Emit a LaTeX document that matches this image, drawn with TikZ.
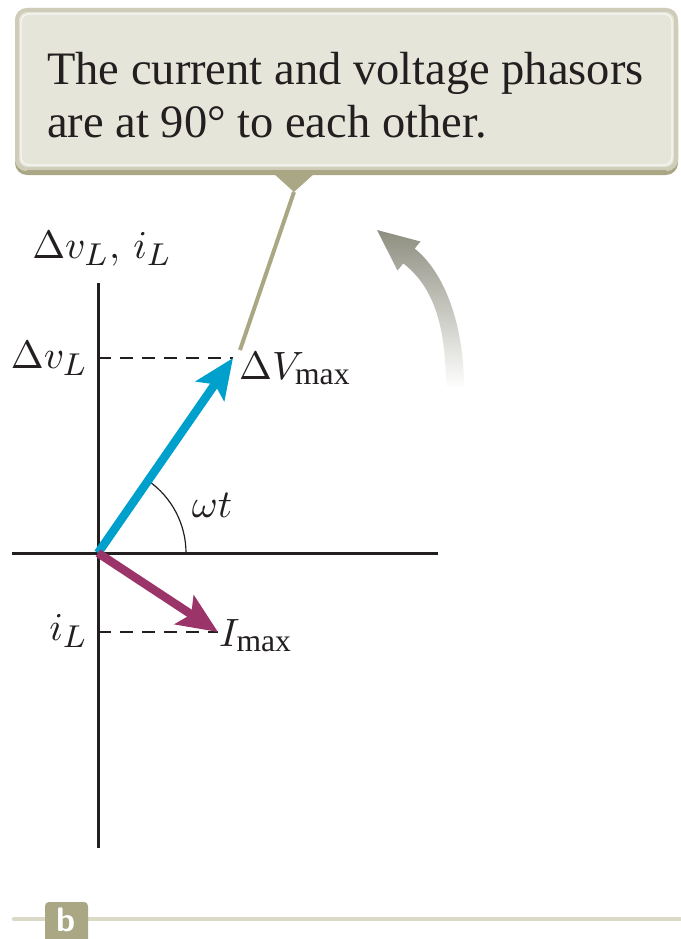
\documentclass[tikz,border=0pt]{standalone}
\usepackage{fontspec}
\setmainfont{Liberation Serif}
\usetikzlibrary{arrows.meta}
\DeclareMathSizes{10}{10}{8}{6}
\definecolor{boxfill}{HTML}{E6E5D9}
\definecolor{boxedge}{HTML}{CFCDB9}
\definecolor{olive}{HTML}{A9A784}
\definecolor{phblue}{HTML}{00A0CC}
\definecolor{phmag}{HTML}{9B3468}
\definecolor{rotgray}{HTML}{8E8E80}
\definecolor{rule}{HTML}{DADAC6}
\definecolor{ink}{HTML}{231F20}
\newcommand{\lblmath}[1]{\scalebox{3.95}{$#1$}}
\tikzset{
  axis/.style={line width=3pt, ink},
  guide/.style={line width=2.2pt, ink, dash pattern=on 13pt off 9pt},
  phasor/.style={line width=8.5pt, -{Stealth[length=40pt, width=34pt, inset=8pt]}},
  lbl/.style={inner sep=0pt, text=ink},
  boxtext/.style={inner sep=0pt, anchor=base west, font=\fontsize{46.5}{54}\selectfont, text=ink},
}
\begin{document}
\begin{tikzpicture}[x=1pt,y=-1pt]
\useasboundingbox (0,0) rectangle (680,939);
% callout box
\fill[olive, rounded corners=12pt] (15,14) rectangle (678,175);
\fill[boxfill, rounded corners=12pt] (15,8) rectangle (678,171);
\draw[boxedge, line width=4pt, rounded corners=10pt] (17,10) rectangle (676,169);
\draw[white, opacity=0.7, line width=1.2pt, rounded corners=8pt] (21,14) rectangle (672,165);
\fill[olive] (27,170) rectangle (666,175);
\node[boxtext] (l1) at (47,85) {The current and voltage phasors};
\node[boxtext] (l2) at (47,138) {are at 90° to each other.};
% pointer
\coordinate (pa) at (273,173);
\coordinate (pb) at (315,173);
\coordinate (pt) at (294,192);
\coordinate (pe) at (240,350);
\fill[olive] (pa) -- (pb) -- (pt) -- cycle;
\draw[olive, line width=4pt] (pt) -- (pe);
% axes
\coordinate (O) at (98,553);
\coordinate (ytop) at (98,283);
\coordinate (ybot) at (98,848);
\coordinate (xl) at (12,553);
\coordinate (xr) at (438,553);
\draw[axis] (ytop) -- (ybot);
\draw[axis] (xl) -- (xr);
% phasor tips
\coordinate (V) at (233,358);
\coordinate (I) at (218,632);
\coordinate (Vy) at (98,358);
\coordinate (Iy) at (98,632);
\draw[guide] (Vy) -- (V);
\draw[guide] (Iy) -- (I);
% angle arc
\draw[ink, line width=1.2pt] (186,553) arc[start angle=0, end angle=-55.3, radius=88];
\draw[phasor, phblue] (O) -- (V);
\draw[phasor, phmag] (O) -- (I);
% labels
\node[lbl, anchor=base] (axl) at (102,258) {\lblmath{\Delta v_L,\, i_L}};
\node[lbl, anchor=base east] (dvl) at (88,368) {\lblmath{\Delta v_L}};
\node[lbl, anchor=base west] (vmax) at (239,379) {\lblmath{\Delta V_{\mathrm{max}}}};
\node[lbl, anchor=base] (wt) at (212,517) {\lblmath{\omega t}};
\node[lbl, anchor=base east] (il) at (88,640) {\lblmath{i_L}};
\node[lbl, anchor=base west] (imax) at (219,646) {\lblmath{I_{\mathrm{max}}}};
% rotation arrow
\shade[top color=rotgray, middle color=rotgray, bottom color=white]
  (464,388) .. controls (464,320) and (442.3,270.5) .. (414.7,248.6)
  -- (420.5,241.5) -- (377,230) -- (397.5,270.5) -- (403.3,263.4)
  .. controls (430.9,285) and (446,320) .. (446,388) -- cycle;
% bottom rule and label
\coordinate (rl) at (14,919);
\coordinate (rr) at (680,919);
\draw[rule, line width=4.5pt, line cap=round] (rl) -- (rr);
\fill[olive, rounded corners=4pt] (45,902) rectangle (88,945);
\node[inner sep=0pt, text=white, font=\sffamily\bfseries\fontsize{34}{38}\selectfont] (b) at (66.5,920) {b};
\end{tikzpicture}
\end{document}
